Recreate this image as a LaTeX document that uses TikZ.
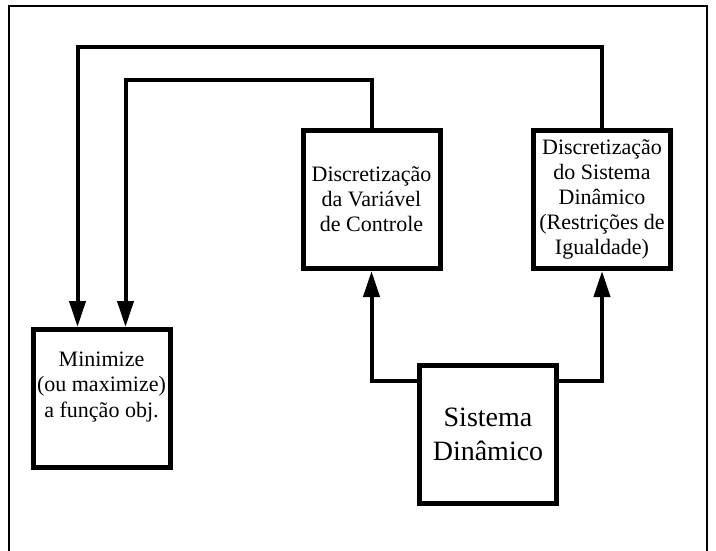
\documentclass[tikz,border=0pt]{standalone}
\usepackage{fontspec}
\setmainfont{Liberation Serif}
\usetikzlibrary{arrows.meta}

\tikzset{
  block/.style={draw=black, line width=5pt, minimum width=137pt, minimum height=138pt,
    inner sep=0pt, align=center, fill=white, font=\fontsize{22}{25}\selectfont},
  bigblock/.style={block, font=\fontsize{28}{34}\selectfont},
  label text/.style={align=center, inner sep=0pt, font=\fontsize{22}{25.5}\selectfont},
  conn/.style={line width=4pt, draw=black},
  flow/.style={conn, -{Triangle[length=26pt,width=16pt]}},
  frame/.style={line width=2pt, draw=black}
}

\begin{document}
\begin{tikzpicture}[x=1pt,y=-1pt]
  \useasboundingbox (0,0) rectangle (716,550);

  % outer frame (bottom edge lies below the page)
  \draw[frame] (9,556) -- (9,6) -- (707,6) -- (707,556);

  % blocks
  \node[block] (mini) at (101.5,398.5) {};
  \node[label text] (minitxt) at (101.5,387) {Minimize\\(ou maximize)\\a função obj.};
  \node[block] (var) at (371.5,199.5) {Discretização\\da Variável\\de Controle};
  \node[block] (din) at (602,199.5) {Discretização\\do Sistema\\Dinâmico\\(Restrições de\\Igualdade)};
  \node[bigblock] (sis) at (488,434.5) {Sistema\\Dinâmico};

  % heights of the two feedback lines
  \coordinate (outerTop) at (0,47);
  \coordinate (innerTop) at (0,80);

  % feedback lines into the objective block
  \draw[flow] (din.north) -- (din.north |- outerTop) -| ([xshift=-24pt]mini.north);
  \draw[flow] (var.north) -- (var.north |- innerTop) -| ([xshift=24pt]mini.north);

  % dynamic system feeding both discretisation blocks
  \draw[flow] ([yshift=54pt]sis.west) -| (var.south);
  \draw[flow] ([yshift=54pt]sis.east) -| (din.south);
\end{tikzpicture}
\end{document}
